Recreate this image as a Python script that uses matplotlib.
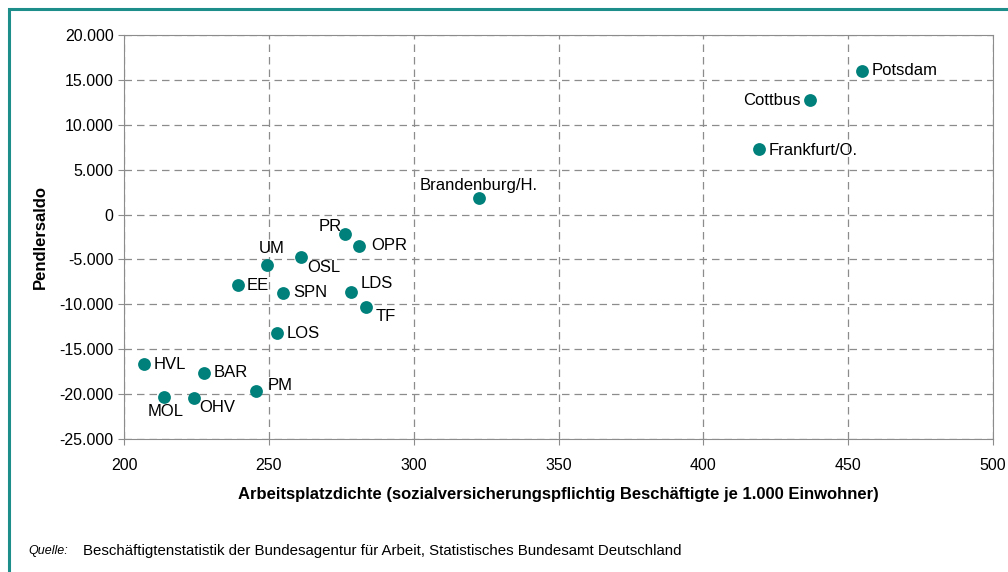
import numpy as np
import matplotlib.pyplot as plt
from matplotlib.ticker import FuncFormatter, MultipleLocator
from matplotlib.patches import Rectangle

plt.rcParams['font.family'] = ['Liberation Sans', 'DejaVu Sans']

# Kreise / kreisfreie Staedte Brandenburg
names = ['Potsdam', 'Cottbus', 'Frankfurt/O.', 'Brandenburg/H.', 'PR', 'OPR', 'OSL', 'UM',
         'EE', 'SPN', 'LDS', 'TF', 'LOS', 'HVL', 'BAR', 'PM', 'MOL', 'OHV']
dichte = [454.8, 436.8, 419.2, 322.5, 276.3, 281.0, 261.1, 249.3,
          239.5, 254.9, 278.4, 283.6, 252.8, 206.8, 227.6, 245.7, 213.9, 224.0]
saldo = [15985, 12750, 7300, 1840, -2170, -3470, -4770, -5630,
         -7900, -8700, -8600, -10300, -13200, -16700, -17600, -19700, -20300, -20400]

# label offsets in pixels (dx, dy, ha)
offsets = [(10, 1, 'left'), (-9, 0, 'right'), (10, -1, 'left'), (0, 13, 'center'),
           (-3, 8, 'right'), (13, 0, 'left'), (6, -10, 'left'), (5, 17, 'center'),
           (8, 0, 'left'), (10, 0, 'left'), (10, 8, 'left'), (9, -9, 'left'),
           (10, 0, 'left'), (10, 0, 'left'), (10, 0, 'left'), (11, 6, 'left'),
           (1, -15, 'center'), (6, -10, 'left')]

teal = '#00807A'
grey = '#8C8C8C'

fig = plt.figure(figsize=(10.08, 5.72), dpi=100)
ax = fig.add_axes([124 / 1008, 1 - 439 / 572, (993 - 124) / 1008, (439 - 35) / 572])

ax.scatter(dichte, saldo, s=85, color=teal, zorder=3, linewidths=0)
for n, x, y, (dx, dy, ha) in zip(names, dichte, saldo, offsets):
    ax.annotate(n, (x, y), xytext=(dx, dy), textcoords='offset pixels',
                ha=ha, va='center', fontsize=12, color='black')

ax.set_xlim(200, 500)
ax.set_ylim(-25000, 20000)
ax.xaxis.set_major_locator(MultipleLocator(50))
ax.yaxis.set_major_locator(MultipleLocator(5000))
ax.yaxis.set_major_formatter(FuncFormatter(lambda v, p: f"{int(v):,}".replace(',', '.')))
ax.grid(True, linestyle=(0, (6, 4)), color=grey, linewidth=0.9)
ax.set_axisbelow(True)
for s in ax.spines.values():
    s.set_color(grey)
ax.tick_params(colors=grey, labelcolor='black', labelsize=11.5, length=4)
ax.tick_params(axis='x', pad=10)

ax.set_xlabel('Arbeitsplatzdichte (sozialversicherungspflichtig Beschäftigte je 1.000 Einwohner)',
              fontsize=12, fontweight='bold', labelpad=10)
ax.set_ylabel('Pendlersaldo', fontsize=12, fontweight='bold', labelpad=8)

# teal frame round the figure
fig.patches.append(Rectangle((8.5 / 1008, -0.05), 1.1, 1 - 8.5 / 572 + 0.05,
                             transform=fig.transFigure, fill=False,
                             edgecolor='#1E8E8A', linewidth=2.2))

fig.text(28 / 1008, 1 - 551 / 572, 'Quelle:', fontsize=9, style='italic', va='center')
fig.text(83 / 1008, 1 - 551 / 572,
         'Beschäftigtenstatistik der Bundesagentur für Arbeit, Statistisches Bundesamt Deutschland',
         fontsize=10.8, va='center')

fig.savefig('out.png', dpi=100)
